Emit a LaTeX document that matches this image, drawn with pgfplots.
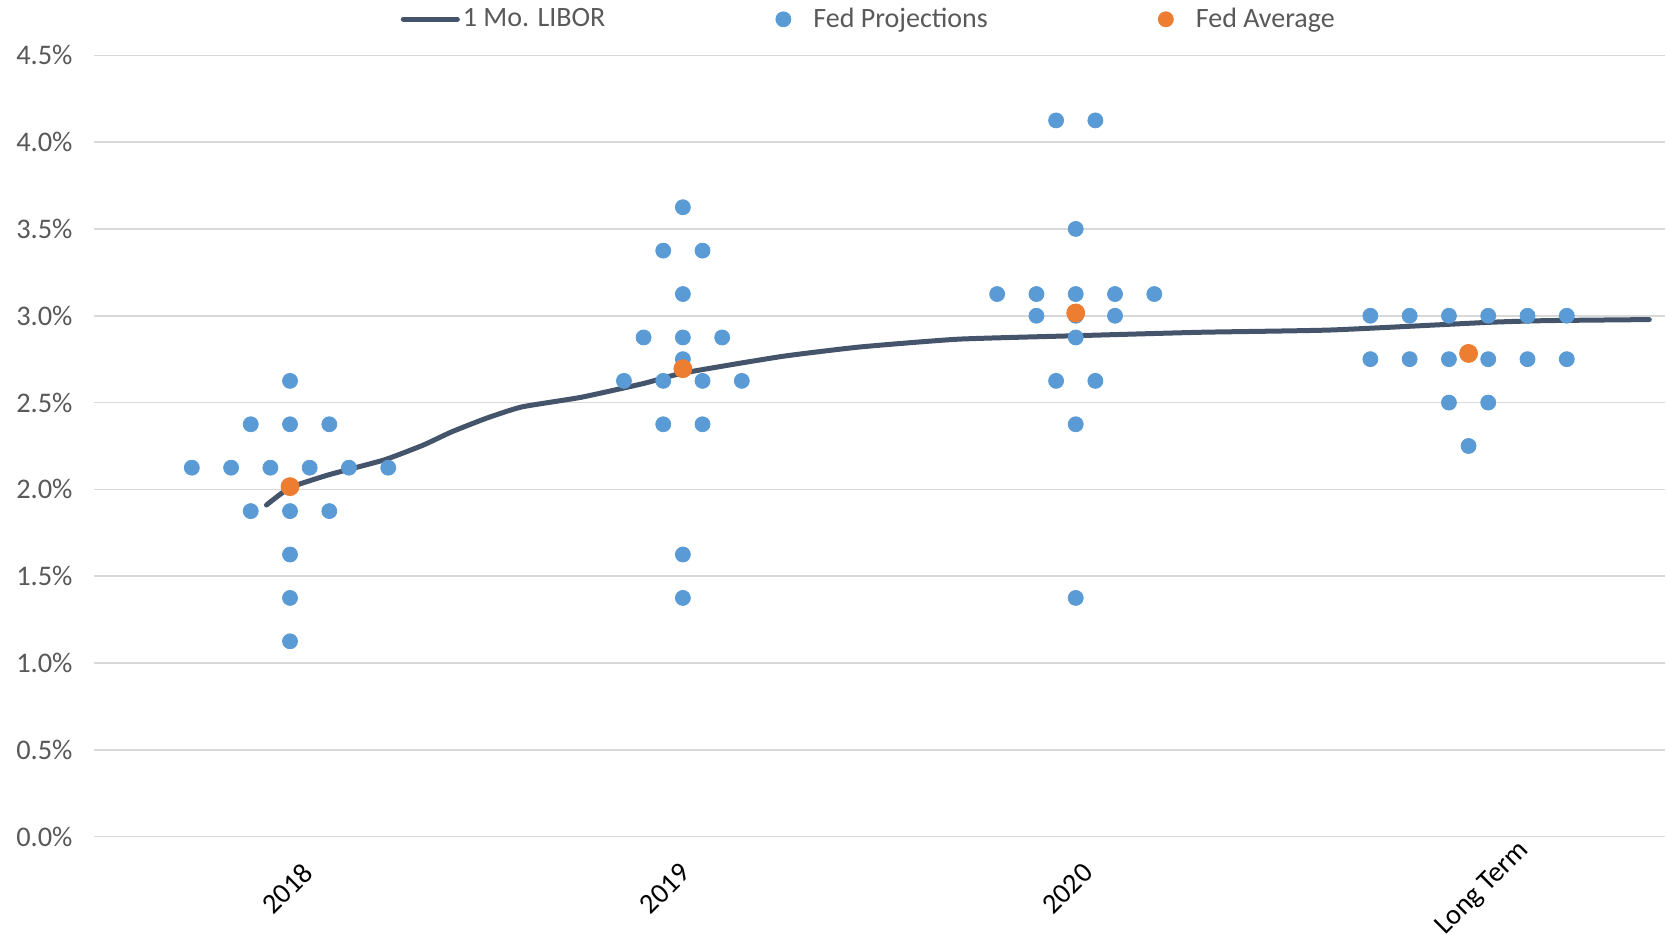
\documentclass[border=0pt]{standalone}
\usepackage{pgfplots}
\pgfplotsset{compat=1.18}
\usepackage{fontspec}
\setmainfont{Carlito}

\definecolor{libor}{HTML}{44546A}
\definecolor{fedblue}{HTML}{5B9BD5}
\definecolor{fedorange}{HTML}{ED7D31}
\definecolor{gridgray}{HTML}{D9D9D9}
\definecolor{labelgray}{HTML}{595959}

\begin{document}
\begin{tikzpicture}
\begin{axis}[
  scale only axis,
  width=785.7pt, height=390.7pt,
  xmin=-0.5, xmax=3.5,
  ymin=0, ymax=4.5,
  axis line style={draw=none},
  major tick length=0pt,
  % category label anchors (the ticks themselves are not drawn)
  xtick={-0.007,0.954,1.979,3.036},
  xticklabels={2018,2019,2020,Long Term},
  xticklabel style={yshift=-26pt, rotate=45, anchor=center,
    font=\fontsize{14.2}{16}\selectfont, text=black},
  ytick={0,0.5,...,4.5},
  ymajorgrids,
  major grid style={gridgray, line width=0.75pt},
  yticklabel={\pgfmathprintnumber[fixed,fixed zerofill,precision=1]{\tick}\%},
  /pgf/number format/assume math mode=true,
  yticklabel style={xshift=-7pt, font=\fontsize{14.2}{16}\selectfont, text=labelgray},
  legend columns=3,
  legend style={at={(0.5,1)}, anchor=center, yshift=18pt, xshift=-5pt,
    draw=none, fill=none, inner sep=0pt,
    font=\fontsize{14}{16}\selectfont, text=labelgray,
    nodes={inner sep=1.5pt},
    /tikz/every even column/.append style={column sep=74pt}},
]
% 1-month LIBOR forward curve
\addplot[libor, line width=2.5pt, line cap=round, smooth, tension=0.3,
  legend image code/.code={\draw[libor, line width=2.5pt, line cap=round] (0pt,0pt) -- (27pt,0pt);}]
coordinates {
  (-0.06,1.91) (0.00,2.01) (0.10,2.085) (0.24,2.17) (0.34,2.256) (0.41,2.33)
  (0.50,2.41) (0.59,2.475) (0.74,2.53) (0.90,2.61) (1.00,2.67) (1.25,2.765)
  (1.45,2.82) (1.70,2.865) (2.00,2.885) (2.32,2.905) (2.65,2.918) (3.05,2.962)
  (3.20,2.972) (3.46,2.978)
};
\addlegendentry{1 Mo. LIBOR}

% FOMC participants' projections (dot plot)
\addplot[only marks, mark=*, mark size=3.75pt, mark options={fedblue},
  legend image code/.code={\path[draw=none,fill=none] (0pt,0pt) rectangle (27pt,0.1pt);
    \fill[fedblue] (13.5pt,0pt) circle (3.75pt);}]
coordinates {
  % 2018
  (0,2.625)
  (-0.1,2.375) (0,2.375) (0.1,2.375)
  (-0.25,2.125) (-0.15,2.125) (-0.05,2.125) (0.05,2.125) (0.15,2.125) (0.25,2.125)
  (-0.1,1.875) (0,1.875) (0.1,1.875)
  (0,1.625) (0,1.375) (0,1.125)
  % 2019
  (1,3.625)
  (0.95,3.375) (1.05,3.375)
  (1,3.125)
  (0.9,2.875) (1,2.875) (1.1,2.875)
  (1,2.75)
  (0.85,2.625) (0.95,2.625) (1.05,2.625) (1.15,2.625)
  (0.95,2.375) (1.05,2.375)
  (1,1.625) (1,1.375)
  % 2020
  (1.95,4.125) (2.05,4.125)
  (2,3.5)
  (1.8,3.125) (1.9,3.125) (2,3.125) (2.1,3.125) (2.2,3.125)
  (1.9,3.0) (2,3.0) (2.1,3.0)
  (2,2.875)
  (1.95,2.625) (2.05,2.625)
  (2,2.375)
  (2,1.375)
  % Long term
  (2.75,3.0) (2.85,3.0) (2.95,3.0) (3.05,3.0) (3.15,3.0) (3.25,3.0)
  (2.75,2.75) (2.85,2.75) (2.95,2.75) (3.05,2.75) (3.15,2.75) (3.25,2.75)
  (2.95,2.5) (3.05,2.5)
  (3,2.25)
};
\addlegendentry{Fed Projections}

% Average of the projections
\addplot[only marks, mark=*, mark size=4.5pt, mark options={fedorange},
  legend image code/.code={\path[draw=none,fill=none] (0pt,0pt) rectangle (27pt,0.1pt);
    \fill[fedorange] (13.5pt,0pt) circle (3.75pt);}]
coordinates {(0,2.016) (1,2.695) (2,3.016) (3,2.783)};
\addlegendentry{Fed Average}
\end{axis}
\pgfresetboundingbox
\path ([shift={(-46.8pt,-48.65pt)}]current axis.south west)
  rectangle ([shift={(1pt,27.65pt)}]current axis.north east);
\end{tikzpicture}
\end{document}
